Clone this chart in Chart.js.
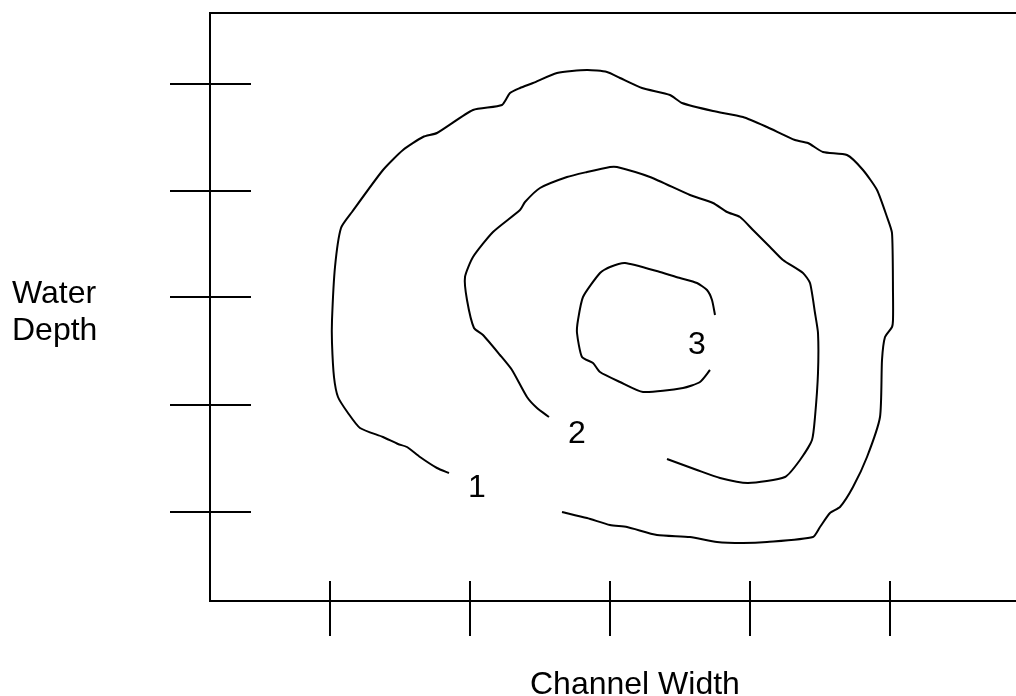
<!DOCTYPE html>
<html>
<head>
<meta charset="utf-8">
<title>Water Depth vs Channel Width</title>
<script src="https://cdn.jsdelivr.net/npm/chart.js@4.4.1/dist/chart.umd.min.js"></script>
<style>
  html, body { margin: 0; padding: 0; background: #fff; }
  canvas { display: block; }
</style>
</head>
<body>
<canvas id="contourChart" width="1016" height="696"></canvas>
<script>
// Contour sketch: channel width (x) against water depth (y), arbitrary units
const xTicks = [12, 26, 40, 54, 68];
const yTicks = [8.9, 19.6, 30.4, 41.0, 51.7];

// contour 1 (outer)
const contour1X = [23.9, 22.7, 21.0, 19.7, 18.8, 17.3, 15.0, 13.8, 12.8, 12.4, 12.2, 12.2, 12.5, 13.1, 14.2,
  17.3, 19.3, 21.3, 22.7, 26.3, 29.2, 30.0, 31.0, 32.3, 34.7, 37.7, 39.7, 41.0, 43.2, 46.0, 47.2, 50.3,
  53.3, 55.7, 58.5, 59.8, 61.3, 63.7, 65.3, 66.7, 67.7, 68.2, 68.3, 68.3, 68.2, 67.5, 67.2, 67.0, 65.7,
  64.3, 63.0, 62.0, 61.0, 60.3, 55.7, 53.3, 50.7, 48.0, 44.7, 41.7, 40.0, 37.7, 35.2];
const contour1Y = [12.8, 13.3, 14.4, 15.4, 15.7, 16.4, 17.3, 18.8, 20.4, 22.4, 25.8, 28.1, 33.4, 37.3, 38.9,
  43.1, 45.1, 46.4, 46.8, 49.1, 49.6, 50.8, 51.3, 51.8, 52.8, 53.1, 52.9, 52.3, 51.3, 50.6, 49.8, 49.0,
  48.4, 47.4, 46.1, 45.8, 44.9, 44.6, 43.1, 41.1, 38.4, 36.8, 30.8, 28.1, 27.4, 26.4, 24.1, 18.4, 14.4,
  11.4, 9.4, 8.8, 7.4, 6.4, 5.9, 5.8, 5.9, 6.4, 6.6, 7.4, 7.6, 8.3, 8.9];

// contour 2 (middle)
const contour2X = [33.9, 32.7, 31.7, 30.2, 29.0, 27.3, 26.4, 25.7, 25.5, 26.3, 28.3, 31.0, 31.5, 33.0, 35.7,
  37.7, 40.0, 40.7, 44.0, 48.0, 50.3, 51.7, 53.0, 54.3, 56.0, 57.3, 59.3, 60.0, 60.5, 60.8, 60.8, 60.5,
  60.2, 59.0, 57.5, 53.8, 51.0, 48.7, 45.7];
const contour2Y = [18.4, 19.3, 20.4, 23.1, 24.6, 26.6, 27.3, 30.1, 32.4, 34.4, 36.9, 39.1, 39.9, 41.3, 42.4,
  42.9, 43.4, 43.4, 42.4, 40.6, 39.8, 38.9, 38.4, 37.1, 35.4, 34.1, 32.8, 31.8, 28.8, 26.8, 22.8, 18.4,
  16.1, 14.1, 12.4, 11.8, 12.3, 13.1, 14.2];

// contour 3 (inner)
const contour3X = [50.0, 49.0, 47.3, 43.3, 41.0, 39.0, 38.3, 37.2, 36.7, 36.8, 37.3, 39.0, 40.0, 41.5, 45.0,
  47.0, 48.7, 49.7, 50.2, 50.5];
const contour3Y = [23.1, 21.9, 21.3, 20.9, 21.9, 22.9, 23.8, 24.4, 26.8, 28.1, 30.4, 32.8, 33.4, 33.8, 32.9,
  32.3, 31.8, 31.1, 30.1, 28.6];

const contourLabels = ['1', '2', '3'];
const contourLabelX = [26.7, 36.7, 48.7];
const contourLabelY = [11.3, 16.7, 25.6];

const xTitle = 'Channel Width';
const yTitle = ['Water', 'Depth'];

function toPoints(xs, ys) {
    return xs.map((x, i) => ({x: x, y: ys[i]}));
}

function contourSet(xs, ys) {
    return {
        data: toPoints(xs, ys),
        showLine: true,
        borderColor: '#000',
        borderWidth: 2,
        pointRadius: 0,
        tension: 0.2,
        fill: false
    };
}

const axisBorder = {display: true, color: '#000', width: 2};

// tick marks cross the axis lines, plus the free text
const sketchDecor = {
    id: 'sketchDecor',
    afterDraw(chart) {
        const {ctx, chartArea, scales} = chart;
        ctx.save();
        ctx.strokeStyle = '#000';
        ctx.lineWidth = 2;
        ctx.beginPath();
        scales.x.ticks.forEach(t => {
            const px = Math.round(scales.x.getPixelForValue(t.value));
            ctx.moveTo(px, chartArea.bottom - 20);
            ctx.lineTo(px, chartArea.bottom + 35);
        });
        scales.y.ticks.forEach(t => {
            const py = Math.round(scales.y.getPixelForValue(t.value));
            ctx.moveTo(chartArea.left - 40, py);
            ctx.lineTo(chartArea.left + 41, py);
        });
        ctx.stroke();

        ctx.fillStyle = '#000';
        ctx.font = '32px "Liberation Sans", Arial, sans-serif';
        ctx.textAlign = 'center';
        ctx.textBaseline = 'middle';
        contourLabels.forEach((txt, i) => {
            ctx.fillText(txt, scales.x.getPixelForValue(contourLabelX[i]), scales.y.getPixelForValue(contourLabelY[i]));
        });

        ctx.textAlign = 'left';
        ctx.textBaseline = 'alphabetic';
        ctx.fillText(yTitle[0], 12, 303);
        ctx.fillText(yTitle[1], 12, 340);
        ctx.fillText(xTitle, 530, 694);
        ctx.restore();
    }
};

const ctx = document.getElementById('contourChart').getContext('2d');
const contourChart = new Chart(ctx, {
    type: 'scatter',
    data: {
        datasets: [
            contourSet(contour1X, contour1Y),
            contourSet(contour2X, contour2Y),
            contourSet(contour3X, contour3Y)
        ]
    },
    options: {
        responsive: false,
        devicePixelRatio: 1,
        animation: false,
        layout: {padding: 0},
        plugins: {
            legend: {display: false},
            tooltip: {enabled: false}
        },
        scales: {
            x: {
                type: 'linear',
                position: 'bottom',
                min: 0,
                max: 80.6,
                grid: {display: false},
                ticks: {display: false},
                border: axisBorder,
                afterBuildTicks: scale => { scale.ticks = xTicks.map(v => ({value: v})); },
                afterFit: scale => { scale.height = 95; }
            },
            xTop: {
                type: 'linear',
                position: 'top',
                min: 0,
                max: 80.6,
                grid: {display: false},
                ticks: {display: false},
                border: axisBorder,
                afterFit: scale => { scale.height = 13; }
            },
            y: {
                type: 'linear',
                position: 'left',
                min: 0,
                max: 58.8,
                grid: {display: false},
                ticks: {display: false},
                border: axisBorder,
                afterBuildTicks: scale => { scale.ticks = yTicks.map(v => ({value: v})); },
                afterFit: scale => { scale.width = 210; }
            }
        }
    },
    plugins: [sketchDecor]
});
</script>
</body>
</html>
